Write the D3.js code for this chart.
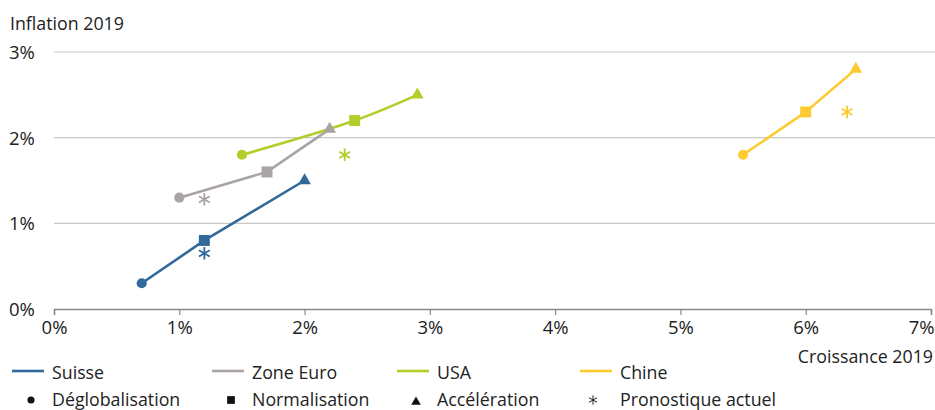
<!DOCTYPE html>
<html><head><meta charset="utf-8">
<script src="https://cdn.jsdelivr.net/npm/d3@7"></script>
<style>
body{margin:0;background:#fff;}
text{font-family:"Open Sans","Noto Sans",sans-serif;fill:#222;}
</style></head>
<body><svg id="c" width="935" height="410"></svg>
<script>
const seriesNames = ["Suisse","Zone Euro","USA","Chine"];
const seriesColors = ["#31699c","#aaa3a3","#b5cc2b","#fdcb2f"];
// scenario points: Déglobalisation, Normalisation, Accélération  [growth, inflation]
const suisse   = [[0.7,0.3],[1.2,0.8],[2.0,1.5]];
const zoneEuro = [[1.0,1.3],[1.7,1.6],[2.2,2.1]];
const usa      = [[1.5,1.8],[2.4,2.2],[2.9,2.5]];
const chine    = [[5.5,1.8],[6.0,2.3],[6.4,2.8]];
// current forecast (Pronostique actuel)
const forecast = [[1.2,0.65],[1.2,1.28],[2.32,1.8],[6.33,2.3]];
const scenarios = ["Déglobalisation","Normalisation","Accélération","Pronostique actuel"];
const xTicks = [0,1,2,3,4,5,6,7];
const yTicks = [0,1,2,3];

const allSeries = [suisse, zoneEuro, usa, chine];
const svg = d3.select("#c");
const x = d3.scaleLinear().domain([0,7]).range([54,931]);
const y = d3.scaleLinear().domain([0,3]).range([309,52]);
const FS = 17.8;

// gridlines
svg.append("g").selectAll("line").data(yTicks.filter(d=>d>0)).join("line")
  .attr("x1",54).attr("x2",935).attr("y1",d=>y(d)).attr("y2",d=>y(d))
  .attr("stroke","#c8c8c8").attr("stroke-width",1.2);
// y tick labels
svg.append("g").selectAll("text").data(yTicks).join("text")
  .attr("x",9).attr("y",d=>y(d)+7).attr("font-size",18.5).text(d=>d+"%");
// x axis
const xa = svg.append("g").attr("transform","translate(0,"+y(0)+")")
  .call(d3.axisBottom(x).tickValues(xTicks).tickSize(6).tickPadding(6).tickFormat(d=>d+"%"));
xa.select(".domain").attr("stroke","#888").attr("stroke-width",1.5);
xa.selectAll(".tick line").attr("stroke","#888").attr("stroke-width",1.2);
xa.selectAll(".tick text").attr("font-size",18.5).attr("font-family","Open Sans").attr("fill","#222");
xa.selectAll(".tick text").filter(d=>d===7).attr("text-anchor","end").attr("x",3);

svg.append("text").attr("x",10).attr("y",30).attr("font-size",FS).text("Inflation 2019");
svg.append("text").attr("x",933).attr("y",363).attr("font-size",FS).attr("text-anchor","end").text("Croissance 2019");

// lines
const line = d3.line().x(d=>x(d[0])).y(d=>y(d[1]));
const smooth = d3.line().x(d=>x(d[0])).y(d=>y(d[1])).curve(d3.curveCatmullRom.alpha(0.5));
allSeries.forEach((s,i)=>{
  svg.append("path").attr("d",(i===2?smooth:line)(s)).attr("fill","none")
    .attr("stroke",seriesColors[i]).attr("stroke-width",2.6);
});
const symTypes = [d3.symbolCircle,d3.symbolSquare,d3.symbolTriangle];
const symSizes = [80,120,70];
allSeries.forEach((s,i)=>{
  s.forEach((p,j)=>{
    svg.append("path").attr("d",d3.symbol(symTypes[j],symSizes[j])())
      .attr("transform","translate("+x(p[0])+","+y(p[1])+")")
      .attr("fill",seriesColors[i]);
  });
});
forecast.forEach((p,i)=>{
  svg.append("path").attr("d",d3.symbol(d3.symbolAsterisk,110)())
    .attr("transform","translate("+x(p[0])+","+y(p[1])+")")
    .attr("fill","none").attr("stroke",seriesColors[i]).attr("stroke-width",1.8);
});

// legend row 1
const legX = [12,212,397,580];
seriesNames.forEach((n,i)=>{
  svg.append("line").attr("x1",legX[i]).attr("x2",legX[i]+32).attr("y1",371).attr("y2",371)
    .attr("stroke",seriesColors[i]).attr("stroke-width",2.6);
  svg.append("text").attr("x",legX[i]+40).attr("y",379).attr("font-size",FS).text(n);
});
// legend row 2
const leg2X = [31,231,416,593];
const legSyms = [d3.symbolCircle,d3.symbolSquare,d3.symbolTriangle,d3.symbolAsterisk];
const legSizes = [40,60,40,60];
scenarios.forEach((n,i)=>{
  const p = svg.append("path").attr("d",d3.symbol(legSyms[i],legSizes[i])())
    .attr("transform","translate("+leg2X[i]+","+(i===2?402:400)+")");
  if(i===3) p.attr("fill","none").attr("stroke","#222").attr("stroke-width",1);
  else p.attr("fill","#111");
  svg.append("text").attr("x",leg2X[i]+(i===3?27:21)).attr("y",406).attr("font-size",FS).text(n);
});
</script></body></html>
